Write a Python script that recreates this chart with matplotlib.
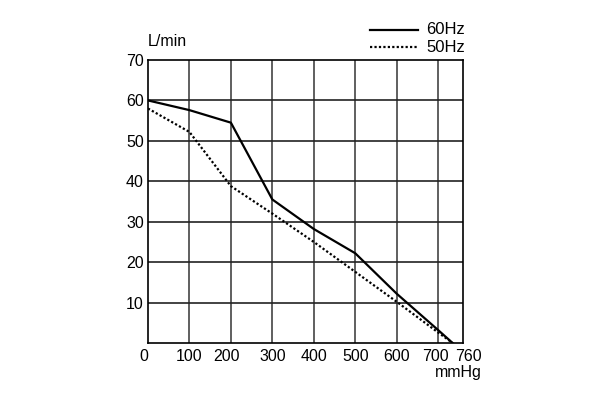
import numpy as np
import matplotlib
matplotlib.use("Agg")
import matplotlib.pyplot as plt
import matplotlib.transforms as mtransforms
from matplotlib.lines import Line2D

# Data
pressure = [0, 100, 200, 300, 400, 500, 600, 700, 735]
flow_60hz = [60, 57.6, 54.5, 35.5, 28.2, 22.2, 12.2, 3.2, 0]
flow_50hz = [58, 52.2, 38.8, 32.0, 25.0, 17.6, 10.2, 2.6, 0]
x_ticks = [0, 100, 200, 300, 400, 500, 600, 700, 760]
y_ticks = [10, 20, 30, 40, 50, 60, 70]

plt.rcParams['font.family'] = ['Liberation Sans', 'DejaVu Sans']
FS = 11.5

fig = plt.figure(figsize=(6.04, 3.98), dpi=100)
ax = fig.add_axes([148 / 604, 1 - 343 / 398, (463 - 148) / 604, (343 - 60) / 398])

# Grid
for xv in x_ticks[1:-1]:
    ax.axvline(xv, color='#444444', lw=1.2, zorder=1)
for yv in y_ticks[:-1]:
    ax.axhline(yv, color='#222222', lw=1.2, zorder=1)

ax.plot(pressure, flow_60hz, color='black', lw=1.6, zorder=3)
ax.plot(pressure, flow_50hz, color='black', lw=1.6, linestyle=(0, (1, 1)), zorder=3)

ax.set_xlim(0, 760)
ax.set_ylim(0, 70)
for s in ax.spines.values():
    s.set_linewidth(1.2)

ax.set_xticks(x_ticks)
ax.set_xticklabels([str(v) for v in x_ticks])
ax.set_yticks(y_ticks)
ax.set_yticklabels([str(v) for v in y_ticks])
ax.tick_params(length=0, labelsize=FS)
ax.tick_params(axis='x', pad=4)
ax.tick_params(axis='y', pad=3)

# nudge crowded x labels like the original
shifts = {0: -4, 200: -4, 700: -3, 760: 5}
for v, lbl in zip(x_ticks, ax.get_xticklabels()):
    dx = shifts.get(v, 0)
    if dx:
        lbl.set_transform(lbl.get_transform() +
                          mtransforms.ScaledTranslation(dx / 100, 0, fig.dpi_scale_trans))

fig.text(148 / 604, 1 - 42 / 398, 'L/min', fontsize=FS, ha='left', va='center')
fig.text(482 / 604, 1 - 372 / 398, 'mmHg', fontsize=FS, ha='right', va='center')

# Legend drawn manually
fig.add_artist(Line2D([370 / 604, 418 / 604], [1 - 30 / 398, 1 - 30 / 398],
                      color='black', lw=1.6))
fig.add_artist(Line2D([370 / 604, 418 / 604], [1 - 47 / 398, 1 - 47 / 398],
                      color='black', lw=1.6, linestyle=(0, (1, 1))))
fig.text(426 / 604, 1 - 30 / 398, '60Hz', fontsize=FS + 0.5, ha='left', va='center')
fig.text(426 / 604, 1 - 47 / 398, '50Hz', fontsize=FS + 0.5, ha='left', va='center')

fig.savefig('out.png', dpi=100)
